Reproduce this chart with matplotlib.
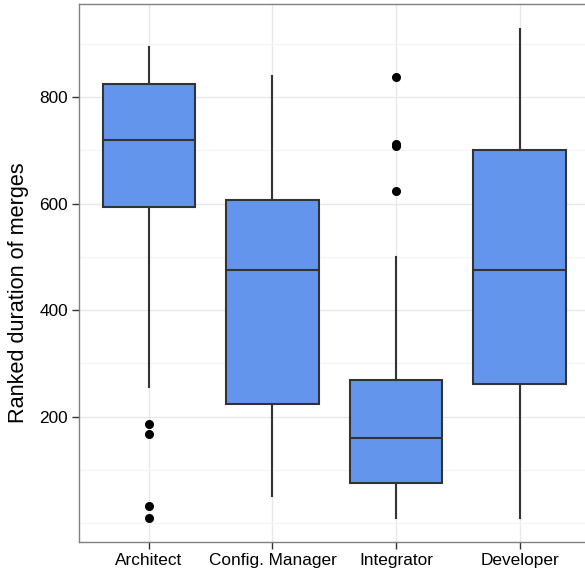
import matplotlib.pyplot as plt
from matplotlib.ticker import MultipleLocator

plt.rcParams['font.family'] = ['Liberation Sans', 'DejaVu Sans']

# Box statistics
roles = ['Architect', 'Config. Manager', 'Integrator', 'Developer']
whisker_low = [255, 52, 10, 10]
q1 = [593, 224, 75, 262]
median = [720, 476, 160, 475]
q3 = [824, 607, 269, 700]
whisker_high = [894, 839, 499, 928]
outliers = [
    [186, 168, 33, 10],
    [],
    [837, 712, 708, 623],
    [],
]

stats = []
for i, name in enumerate(roles):
    stats.append({
        'label': name,
        'whislo': whisker_low[i],
        'q1': q1[i],
        'med': median[i],
        'q3': q3[i],
        'whishi': whisker_high[i],
        'fliers': outliers[i],
    })

fig = plt.figure(figsize=(5.85, 5.71), dpi=100)
ax = fig.add_axes([79.3 / 585, (571 - 542.3) / 571, (585 - 79.3) / 585, (542.3 - 4.3) / 571])

line_col = '#333333'
ax.bxp(stats, positions=[1, 2, 3, 4], widths=0.75, patch_artist=True, showcaps=False,
       boxprops=dict(facecolor='#6495ED', edgecolor=line_col, linewidth=1.5),
       medianprops=dict(color=line_col, linewidth=1.5),
       whiskerprops=dict(color=line_col, linewidth=1.5),
       flierprops=dict(marker='o', markerfacecolor='black', markeredgecolor='black', markersize=5.5),
       zorder=3)

ax.set_xlim(0.436, 4.53)
ax.set_ylim(-35.5, 974)
ax.yaxis.set_minor_locator(MultipleLocator(100))
ax.set_yticks([200, 400, 600, 800])
ax.set_xticks([1, 2, 3, 4])
ax.set_xticklabels(roles)

ax.grid(which='major', color='#E8E8E8', linewidth=1.0, zorder=0)
ax.grid(which='minor', axis='y', color='#F5F5F5', linewidth=1.0, zorder=0)
ax.set_axisbelow(True)

for side in ['left', 'bottom', 'top']:
    ax.spines[side].set_color('#808080')
    ax.spines[side].set_linewidth(1.0)
ax.spines['right'].set_visible(False)

ax.tick_params(axis='both', which='major', length=5, width=1.0, color=line_col,
               labelsize=12.4, labelcolor='black', pad=3)
ax.tick_params(axis='y', which='minor', length=0)
ax.set_ylabel('Ranked duration of merges', fontsize=15.6)
ax.yaxis.set_label_coords(-0.099, 0.464)

fig.savefig('out.png', dpi=100)
